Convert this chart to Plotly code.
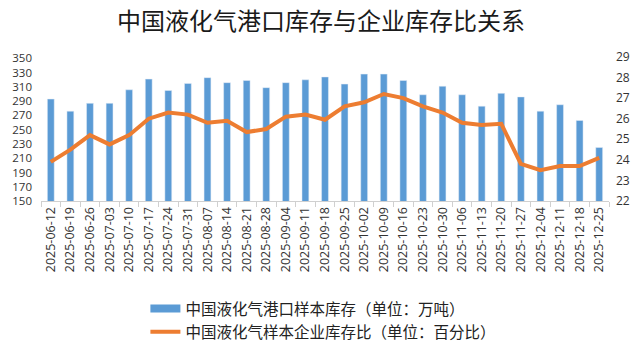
import plotly.graph_objects as go

dates = ["2025-06-12","2025-06-19","2025-06-26","2025-07-03","2025-07-10","2025-07-17","2025-07-24",
         "2025-07-31","2025-08-07","2025-08-14","2025-08-21","2025-08-28","2025-09-04","2025-09-11",
         "2025-09-18","2025-09-25","2025-10-02","2025-10-09","2025-10-16","2025-10-23","2025-10-30",
         "2025-11-06","2025-11-13","2025-11-20","2025-11-27","2025-12-04","2025-12-11","2025-12-18",
         "2025-12-25"]
port_stock = [293, 276, 287, 287, 306, 321, 305, 315, 323, 316, 319, 309, 316, 320, 324,
              314, 328, 328, 319, 299, 311, 299, 283, 301, 296, 276, 285, 263, 225]
stock_ratio = [23.9, 24.5, 25.2, 24.75, 25.2, 26.0, 26.3, 26.2, 25.8, 25.9, 25.35, 25.5, 26.1, 26.2,
               25.95, 26.6, 26.8, 27.2, 27.0, 26.6, 26.3, 25.8, 25.7, 25.75, 23.8, 23.5, 23.7, 23.7, 24.1]

name_bar = "中国液化气港口样本库存（单位：万吨）"
name_line = "中国液化气样本企业库存比（单位：百分比）"
title = "中国液化气港口库存与企业库存比关系"

BLUE = "#5B9BD5"
ORANGE = "#ED7D31"
CJK = "Noto Sans CJK SC"
NUM = "Open Sans"

fig = go.Figure()
fig.add_trace(go.Bar(x=dates, y=port_stock, marker_color=BLUE, showlegend=False, name=name_bar))
fig.add_trace(go.Scatter(x=dates, y=stock_ratio, mode="lines", yaxis="y2",
                         line=dict(color=ORANGE, width=4), showlegend=False, name=name_line))
# legend entries
fig.add_trace(go.Scatter(x=[None], y=[None], mode="lines", line=dict(color=BLUE, width=8), name=name_bar))
fig.add_trace(go.Scatter(x=[None], y=[None], mode="lines", line=dict(color=ORANGE, width=4), name=name_line))

fig.update_layout(
    width=642, height=354,
    margin=dict(l=40, r=28, t=57, b=153),
    paper_bgcolor="white", plot_bgcolor="white",
    bargap=0.65,
    title=dict(text=title, x=0.5, xanchor="center", y=1 - 22 / 354, yanchor="middle",
               font=dict(family=CJK, size=24, color="#1a1a1a")),
    xaxis=dict(type="category", tickangle=-90, showline=True, linecolor="#d0d0d0", linewidth=1,
               ticks="outside", ticklen=5, tickcolor="#d0d0d0", tickson="boundaries",
               showgrid=False, tickfont=dict(family=NUM, size=12.5, color="#333")),
    yaxis=dict(range=[150, 352], dtick=20, tick0=150, showgrid=False, zeroline=False,
               showline=False, ticklabelstandoff=8,
               tickfont=dict(family=NUM, size=11.5, color="#333")),
    yaxis2=dict(range=[22, 29], dtick=1, tick0=22, overlaying="y", side="right", showgrid=False,
                zeroline=False, showline=False, ticklabelstandoff=6,
                tickfont=dict(family=NUM, size=12, color="#333")),
    legend=dict(orientation="v", x=118 / 642, xanchor="left", y=1 - 292 / 354, yanchor="top",
                yref="container", font=dict(family=CJK, size=15.5, color="#222"),
                tracegroupgap=0, itemwidth=30, bgcolor="rgba(0,0,0,0)"),
    showlegend=True,
)
fig.write_html("out.html")
